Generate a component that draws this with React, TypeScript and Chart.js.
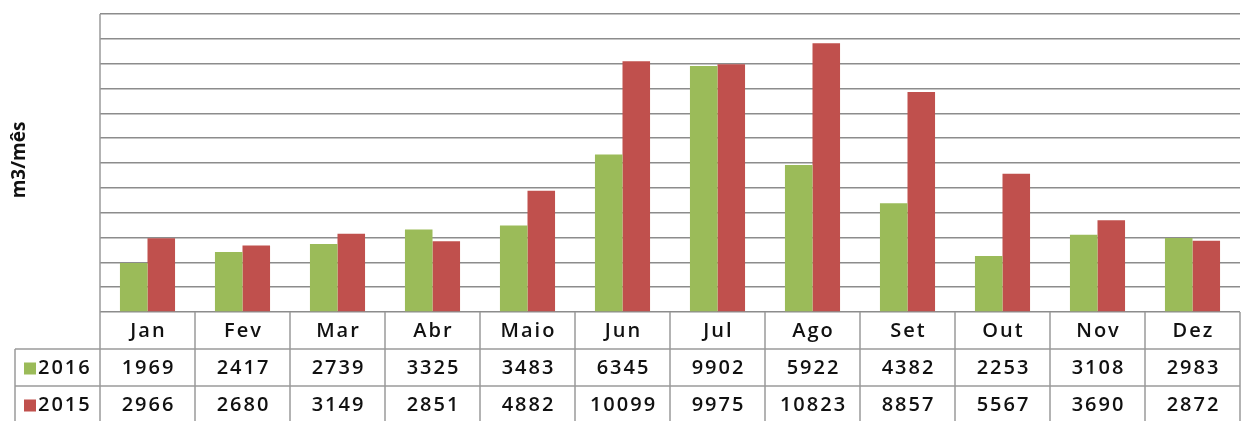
import React, { useEffect, useRef } from "react";
import { Chart, registerables } from "chart.js";

Chart.register(...registerables);

const categories = ["Jan", "Fev", "Mar", "Abr", "Maio", "Jun", "Jul", "Ago", "Set", "Out", "Nov", "Dez"];
const series2016 = [1969, 2417, 2739, 3325, 3483, 6345, 9902, 5922, 4382, 2253, 3108, 2983];
const series2015 = [2966, 2680, 3149, 2851, 4882, 10099, 9975, 10823, 8857, 5567, 3690, 2872];
const seriesLabels = ["2016", "2015"];
const seriesColors = ["#9BBB59", "#C0504D"];
const yMax = 12000;
const yStep = 1000;
const yTitle = "m3/mês";

const FONT = "'Open Sans', 'DejaVu Sans', sans-serif";

const tablePlugin = {
  id: "dataTable",
  afterDraw(chart: any) {
    const ctx = chart.ctx as CanvasRenderingContext2D;
    const area = chart.chartArea;
    const xs = chart.scales.x;
    const n = categories.length;
    const colW = (area.right - area.left) / n;
    const rowH = 37;
    const top = area.bottom;
    const r1 = top + rowH;
    const r2 = r1 + rowH;
    const bottom = chart.height;
    const legendLeft = 15;

    ctx.save();
    ctx.strokeStyle = "#9a9a9a";
    ctx.lineWidth = 1.5;
    ctx.beginPath();
    ctx.moveTo(area.left, area.top);
    ctx.lineTo(area.left, bottom);
    for (let i = 1; i <= n; i++) {
      const x = area.left + i * colW;
      ctx.moveTo(x, top);
      ctx.lineTo(x, bottom);
    }
    ctx.moveTo(legendLeft, r1);
    ctx.lineTo(area.right, r1);
    ctx.moveTo(legendLeft, r2);
    ctx.lineTo(area.right, r2);
    ctx.moveTo(legendLeft, r1);
    ctx.lineTo(legendLeft, bottom);
    ctx.stroke();

    ctx.fillStyle = "#111";
    ctx.textAlign = "center";
    ctx.textBaseline = "middle";
    ctx.font = `600 20px ${FONT}`;
    (ctx as any).letterSpacing = "2px";
    const rows = [series2016, series2015];
    for (let i = 0; i < n; i++) {
      const cx = xs.getPixelForValue(i) + 1;
      ctx.fillText(categories[i], cx, top + rowH / 2 + 1);
      ctx.fillText(String(rows[0][i]), cx, r1 + rowH / 2 + 1);
      ctx.fillText(String(rows[1][i]), cx, r2 + rowH / 2 + 1);
    }
    ctx.textAlign = "left";
    for (let s = 0; s < 2; s++) {
      const cy = (s === 0 ? r1 : r2) + rowH / 2;
      ctx.fillStyle = seriesColors[s];
      ctx.fillRect(24, cy - 5, 12, 12);
      ctx.fillStyle = "#111";
      ctx.fillText(seriesLabels[s], 38, cy + 1);
    }
    (ctx as any).letterSpacing = "0px";

    ctx.save();
    ctx.translate(20, 160);
    ctx.rotate(-Math.PI / 2);
    ctx.textAlign = "center";
    ctx.textBaseline = "middle";
    ctx.font = `bold 19px ${FONT}`;
    ctx.fillText(yTitle, 0, 0);
    ctx.restore();

    ctx.restore();
  },
};

export default function App() {
  const ref = useRef<HTMLCanvasElement | null>(null);
  useEffect(() => {
    if (!ref.current) return;
    const chart = new Chart(ref.current, {
      type: "bar",
      data: {
        labels: categories,
        datasets: [
          { label: seriesLabels[0], data: series2016, backgroundColor: seriesColors[0], borderWidth: 0 },
          { label: seriesLabels[1], data: series2015, backgroundColor: seriesColors[1], borderWidth: 0 },
        ],
      },
      options: {
        animation: false,
        responsive: false,
        maintainAspectRatio: false,
        layout: { padding: { left: 100, right: 5, top: 14, bottom: 109 } },
        plugins: { legend: { display: false }, tooltip: { enabled: false } },
        datasets: { bar: { categoryPercentage: 0.58, barPercentage: 1.0 } },
        scales: {
          x: {
            ticks: { display: false },
            grid: { display: false, drawTicks: false },
            border: { display: false },
          },
          y: {
            min: 0,
            max: yMax,
            ticks: { display: false, stepSize: yStep },
            grid: { color: "#8c8c8c", lineWidth: 1.5, drawTicks: false },
            border: { display: false },
          },
        },
      },
      plugins: [tablePlugin],
    });
    return () => chart.destroy();
  }, []);
  return (
    <div style={{ position: "absolute", left: 0, top: 0, width: 1245, height: 421, background: "#fff" }}>
      <canvas ref={ref} width={1245} height={421} style={{ width: 1245, height: 421 }} />
    </div>
  );
}
